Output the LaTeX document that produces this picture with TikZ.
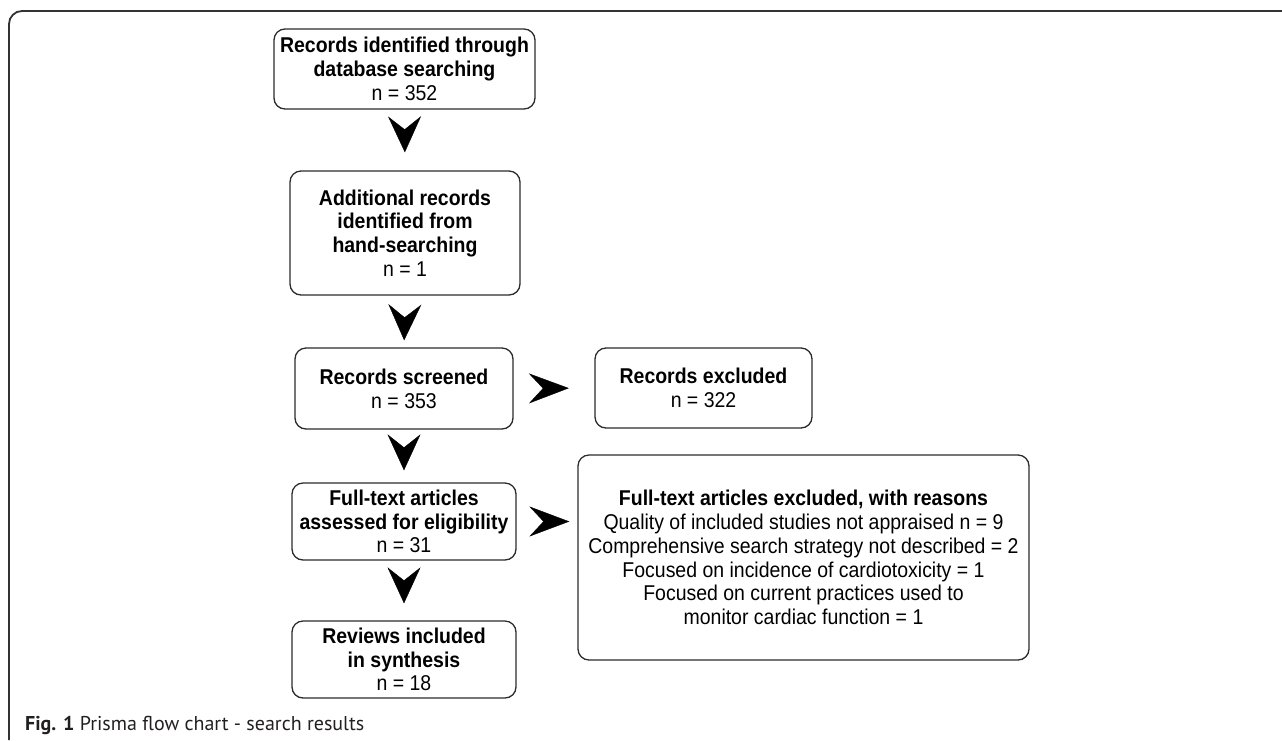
\documentclass[tikz,border=0pt]{standalone}
\usepackage{fontspec}
\setmainfont{Liberation Sans}[FakeStretch=0.91]
\newfontfamily\capfont{PT Sans}
\usetikzlibrary{arrows.meta}
\definecolor{boxline}{HTML}{2B2B2B}
\definecolor{framec}{HTML}{333333}
\definecolor{capgray}{HTML}{231F20}
\begin{document}
\begin{tikzpicture}[x=1pt,y=-1pt,
  box/.style={draw=boxline, line width=1.3pt, rounded corners=11pt, align=center,
    inner sep=0pt, font=\fontsize{21.4}{23.8}\selectfont, text=black},
  chevd/.style={line width=0.4pt, draw=black, -{Stealth[length=36pt,width=33pt,inset=13pt]}},
  chevr/.style={line width=0.4pt, draw=black, -{Stealth[length=40pt,width=30pt,inset=14pt]}}
]
\useasboundingbox (0,0) rectangle (1282,740);
\draw[framec, line width=1.8pt, rounded corners=13pt] (9,740) -- (9,11) -- (1282,11);

\node[box, minimum width=261pt, minimum height=80pt] (b1) at (404.5,69)
  {\textbf{Records identified through}\\\textbf{database searching}\\n = 352};
\node[box, minimum width=230pt, minimum height=124pt] (b2) at (405,233)
  {\textbf{Additional records}\\\textbf{identified from}\\\textbf{hand-searching}\\n = 1};
\node[box, minimum width=218pt, minimum height=81pt] (b3) at (404,388.5)
  {\textbf{Records screened}\\n = 353};
\node[box, minimum width=224pt, minimum height=77pt] (b4) at (404,521.5)
  {\textbf{Full-text articles}\\\textbf{assessed for eligibility}\\n = 31};
\node[box, minimum width=224pt, minimum height=77pt] (b5) at (404,659.5)
  {\textbf{Reviews included}\\\textbf{in synthesis}\\n = 18};
\node[box, minimum width=217pt, minimum height=80pt] (ex) at (703.5,388)
  {\textbf{Records excluded}\\n = 322};
\node[box, minimum width=451pt, minimum height=205pt] (rs) at (803.5,557.5)
  {\textbf{Full-text articles excluded, with reasons}\\
   Quality of included studies not appraised n = 9\\
   Comprehensive search strategy not described = 2\\
   Focused on incidence of cardiotoxicity = 1\\
   Focused on current practices used to\\
   monitor cardiac function = 1};

\draw[chevd, shorten <=21pt, shorten >=18pt] (b1.south) -- (b2.north);
\draw[chevd, shorten <=23pt, shorten >=7pt] (b2.south) -- (b3.north);
\draw[chevd, shorten <=19pt, shorten >=12pt] (b3.south) -- (b4.north);
\draw[chevd, shorten <=21pt, shorten >=17pt] (b4.south) -- (b5.north);
\draw[chevr, shorten <=31pt, shorten >=25.5pt] (b3.east) -- (ex.west);
\draw[chevr, shorten <=28pt, shorten >=8pt] (b4.east) -- (b4.east -| rs.west);

\node[anchor=base west, inner sep=0pt, text=capgray,
  font=\capfont\fontsize{20}{24}\selectfont] (cap) at (25,730)
  {\textbf{Fig. 1} Prisma flow chart - search results};
\end{tikzpicture}
\end{document}
